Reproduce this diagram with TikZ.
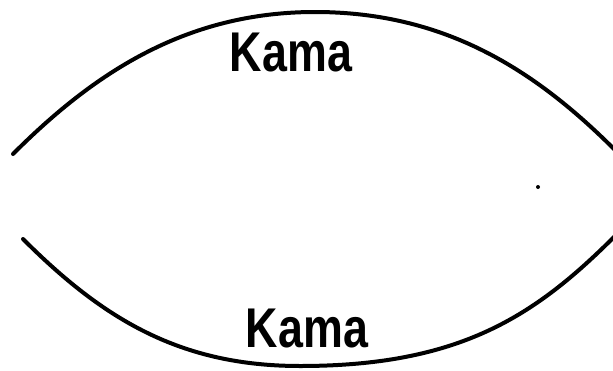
\documentclass[tikz,border=0pt]{standalone}
\usepackage{fontspec}
\setmainfont{Liberation Sans}
\begin{document}
\begin{tikzpicture}[x=1pt,y=-1pt,
  arcline/.style={line width=4pt, line cap=round, line join=round},
  lbl/.style={font=\fontsize{56}{58}\selectfont\bfseries, xscale=0.8, inner sep=0pt}]
\useasboundingbox (0,0) rectangle (613,370);
\clip (0,0) rectangle (613,370);
\coordinate (tl) at (13,154);
\coordinate (tp) at (315,12);
\coordinate (tr) at (615,150);
\coordinate (bl) at (23,239);
\coordinate (bp) at (300,366);
\coordinate (br) at (615,236);
\draw[arcline] (tl) .. controls (93,74) and (185,12) .. (tp)
  .. controls (445,12) and (535,70) .. (tr);
\draw[arcline] (bl) .. controls (103,319) and (180,366) .. (bp)
  .. controls (460,366) and (535,316) .. (br);
\node[lbl] (top) at (291,53) {Kama};
\node[lbl] (bot) at (307,329) {Kama};
\fill (538,187) circle (2);
\end{tikzpicture}
\end{document}
